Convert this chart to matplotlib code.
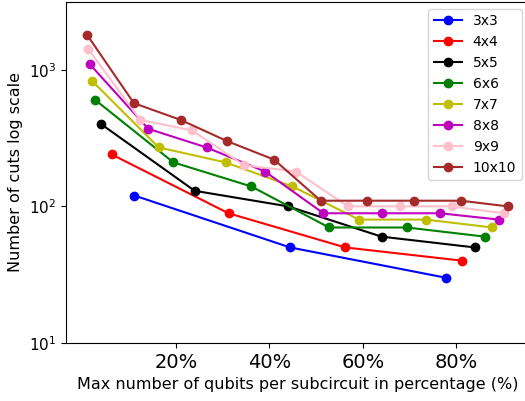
import matplotlib
matplotlib.use("Agg")
import matplotlib.pyplot as plt
from matplotlib.ticker import FuncFormatter, NullLocator

# grid sizes and cut counts
labels = ['3x3', '4x4', '5x5', '6x6', '7x7', '8x8', '9x9', '10x10']
colors = ['b', 'r', 'k', 'g', 'y', 'm', 'pink', 'brown']

cuts_3 = [120, 50, 30]
cuts_4 = [240, 89, 50, 40]
cuts_5 = [400, 130, 100, 60, 50]
cuts_6 = [600, 210, 140, 70, 70, 60]
cuts_7 = [830, 270, 210, 140, 80, 80, 70]
cuts_8 = [1100, 370, 270, 180, 89, 89, 89, 80]
cuts_9 = [1420, 430, 360, 200, 180, 100, 100, 100, 89]
cuts_10 = [1800, 570, 430, 300, 220, 110, 110, 110, 110, 100]

all_cuts = [cuts_3, cuts_4, cuts_5, cuts_6, cuts_7, cuts_8, cuts_9, cuts_10]
sizes = [3, 4, 5, 6, 7, 8, 9, 10]

fig = plt.figure(figsize=(5.25, 4.01), dpi=100)
ax = fig.add_axes([0.126, 0.145, 0.881, 0.851])

for n, cuts, lab, c in zip(sizes, all_cuts, labels, colors):
    q = n * n
    # max qubits per subcircuit: 1, 1+n, 1+2n, ... as a share of n*n
    pct = [(1 + k * n) / q * 100 for k in range(len(cuts))]
    ax.plot(pct, cuts, '-o', color=c, label=lab, linewidth=1.5, markersize=6)

ax.set_yscale('log')
ax.set_ylim(10, 10 ** 3.5)
ax.yaxis.set_minor_locator(NullLocator())
ax.set_xticks([20, 40, 60, 80])
ax.xaxis.set_major_formatter(FuncFormatter(lambda v, p: f'{v:.0f}%'))
ax.tick_params(axis='x', labelsize=14)
ax.tick_params(axis='y', labelsize=11)

ax.set_xlabel('Max number of qubits per subcircuit in percentage (%)', fontsize=11.5)
ax.set_ylabel('Number of cuts log scale', fontsize=11.5)
ax.legend(loc='upper right', fontsize=10)

fig.savefig('out.png', dpi=100)
